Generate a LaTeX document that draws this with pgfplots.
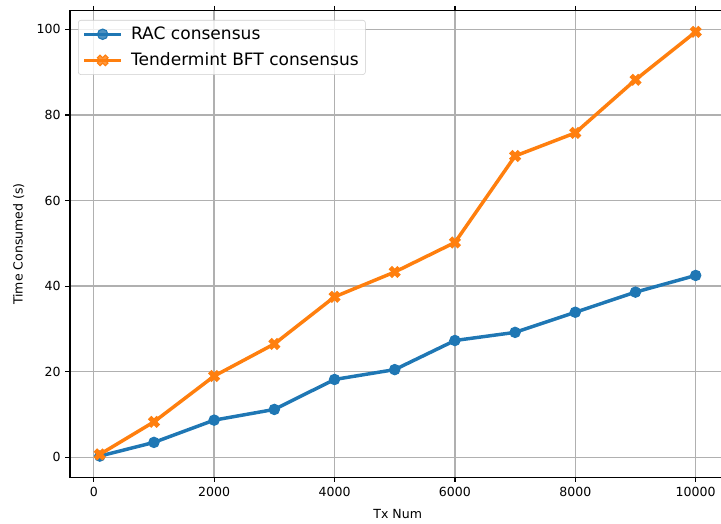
\documentclass[border=0pt]{standalone}
\usepackage{pgfplots}
\pgfplotsset{compat=1.18}
\usepackage{fontspec}
\setmainfont{DejaVu Sans}

\definecolor{mplblue}{HTML}{1F77B4}
\definecolor{mplorange}{HTML}{FF7F0E}
\definecolor{mplgrid}{HTML}{B0B0B0}

% filled "X" marker like matplotlib's
\newdimen\mxa \newdimen\mxb
\pgfdeclareplotmark{filledX}{%
  \mxa=\pgfplotmarksize
  \mxb=0.5\pgfplotmarksize
  \pgfpathmoveto{\pgfqpoint{0pt}{\mxb}}%
  \pgfpathlineto{\pgfqpoint{\mxb}{\mxa}}%
  \pgfpathlineto{\pgfqpoint{\mxa}{\mxb}}%
  \pgfpathlineto{\pgfqpoint{\mxb}{0pt}}%
  \pgfpathlineto{\pgfqpoint{\mxa}{-\mxb}}%
  \pgfpathlineto{\pgfqpoint{\mxb}{-\mxa}}%
  \pgfpathlineto{\pgfqpoint{0pt}{-\mxb}}%
  \pgfpathlineto{\pgfqpoint{-\mxb}{-\mxa}}%
  \pgfpathlineto{\pgfqpoint{-\mxa}{-\mxb}}%
  \pgfpathlineto{\pgfqpoint{-\mxb}{0pt}}%
  \pgfpathlineto{\pgfqpoint{-\mxa}{\mxb}}%
  \pgfpathlineto{\pgfqpoint{-\mxb}{\mxa}}%
  \pgfpathclose
  \pgfusepathqfillstroke
}

\begin{document}
\begin{tikzpicture}
\begin{axis}[
    scale only axis,
    width=491.6pt, height=350pt,
    xmin=-395, xmax=10495,
    ymin=-4.66, ymax=104.35,
    xtick={0,2000,...,10000},
    ytick={0,20,...,100},
    scaled x ticks=false,
    tick align=outside,
    major tick length=3.5pt,
    tick style={black, line width=0.9pt},
    axis line style={line width=1pt},
    grid=major,
    major grid style={mplgrid, line width=1pt},
    ticklabel style={font=\fontsize{9.4}{11}\selectfont},
    label style={font=\fontsize{9.4}{11}\selectfont},
    xlabel style={yshift=-3pt},
    ylabel style={yshift=2.5pt},
    /pgf/number format/assume math mode=true,
    /pgf/number format/set thousands separator={},
    xlabel={Tx Num},
    ylabel={Time Consumed (s)},
    legend cell align=left,
    legend style={
        at={(0.0122,0.98)}, anchor=north west,
        font=\fontsize{12.8}{15}\selectfont,
        draw=black!20, rounded corners=2pt,
        fill=white, fill opacity=0.8, text opacity=1,
        inner xsep=3pt, inner ysep=3pt,
        row sep=4.5pt,
    },
    legend image code/.code={%
        \draw[#1, mark repeat=2, mark phase=2]
        plot coordinates {(0pt,0pt) (14pt,0pt) (28pt,0pt)};
        \path (32pt,0pt);},
]
\addplot[color=mplblue, line width=2.6pt, mark=*, mark size=3.9pt,
    mark options={solid, line width=0.8pt, fill=mplblue}]
coordinates {
    (100,0.3) (1000,3.5) (2000,8.7) (3000,11.2) (4000,18.2)
    (5000,20.5) (6000,27.3) (7000,29.2) (8000,33.9) (9000,38.6)
    (10000,42.5)
};
\addlegendentry{RAC consensus}
\addplot[color=mplorange, line width=2.6pt, mark=filledX, mark size=4pt,
    mark options={solid, line width=0.8pt, fill=mplorange}]
coordinates {
    (100,0.7) (1000,8.3) (2000,19.0) (3000,26.5) (4000,37.5)
    (5000,43.3) (6000,50.2) (7000,70.4) (8000,75.8) (9000,88.2)
    (10000,99.4)
};
\addlegendentry{Tendermint BFT consensus}
\coordinate (bl) at (rel axis cs:0,0);
\end{axis}
\pgfresetboundingbox
\path[use as bounding box] ([xshift=-52.5pt, yshift=-35pt]bl) rectangle ++(540.75pt,393pt);
\end{tikzpicture}
\end{document}
